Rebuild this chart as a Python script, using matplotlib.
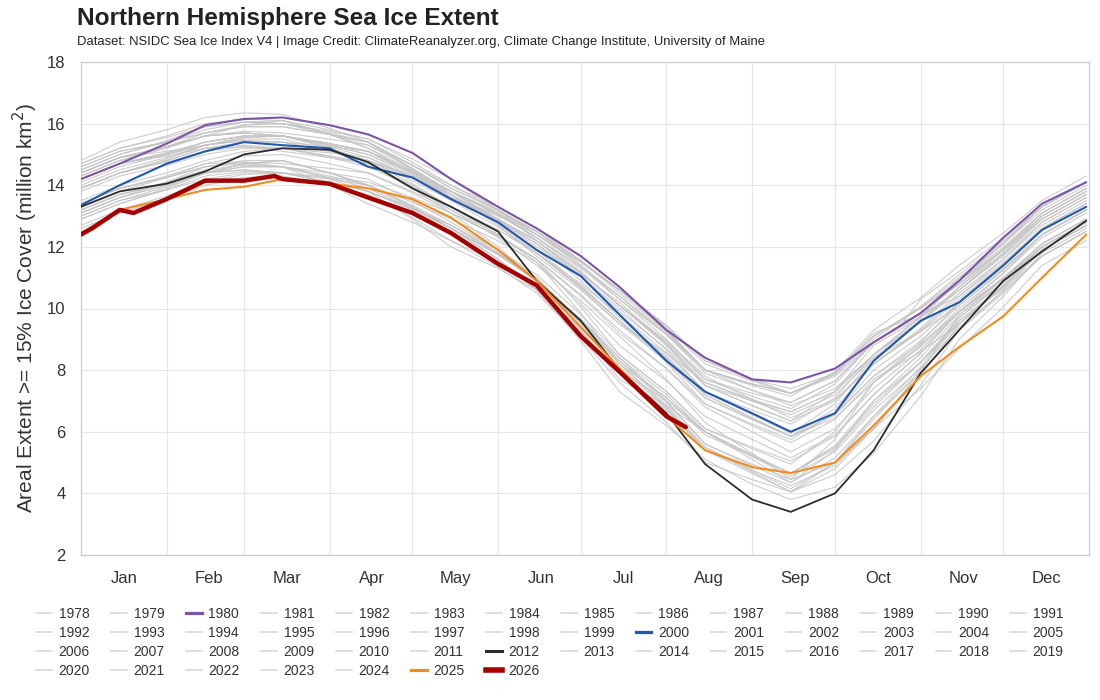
import matplotlib
matplotlib.use("Agg")
import matplotlib.pyplot as plt
from matplotlib.lines import Line2D

plt.rcParams["font.family"] = ["Liberation Sans", "DejaVu Sans"]

# day-of-year knots (Jan 1 = 0): 1st and 15th of each month, plus Dec 31
KNOT_DAYS = [0, 14, 31, 45, 59, 73, 90, 104, 120, 134, 151, 165, 181, 195,
             212, 226, 243, 257, 273, 287, 304, 318, 334, 348, 364]

MONTHS = ["Jan", "Feb", "Mar", "Apr", "May", "Jun",
          "Jul", "Aug", "Sep", "Oct", "Nov", "Dec"]
MONTH_START = [0, 31, 59, 90, 120, 151, 181, 212, 243, 273, 304, 334]

# 1978 record starts late October
DAYS_1978 = [298, 304, 318, 334, 348, 364]
Y1978 = [9.6, 10.3, 11.2, 12.3, 13.3, 14.1]

Y1979 = [14.8, 15.4, 15.8, 16.2, 16.35, 16.3, 15.85, 15.4, 14.65, 13.9, 13.2, 12.5, 11.4, 10.3, 9.15, 8.0, 7.35, 6.85, 7.4, 8.5, 9.7, 10.9, 12.1, 13.3, 14.1]
Y1980 = [14.2, 14.7, 15.35, 15.95, 16.15, 16.2, 15.95, 15.65, 15.05, 14.2, 13.3, 12.6, 11.7, 10.7, 9.3, 8.4, 7.7, 7.6, 8.05, 8.9, 9.85, 10.9, 12.3, 13.4, 14.1]
Y1981 = [14.4, 14.9, 15.25, 15.6, 15.7, 15.6, 15.35, 15.1, 14.45, 13.8, 13.05, 12.3, 11.35, 10.4, 9.15, 7.9, 7.35, 6.95, 7.65, 8.9, 9.85, 10.8, 11.9, 13.0, 13.8]
Y1982 = [14.7, 15.2, 15.55, 15.9, 16.05, 16.0, 15.75, 15.5, 14.75, 14.0, 13.3, 12.6, 11.55, 10.5, 9.25, 8.0, 7.5, 7.15, 7.95, 9.3, 10.35, 11.4, 12.45, 13.5, 14.3]
Y1983 = [14.7, 15.2, 15.6, 16.0, 16.15, 16.1, 15.65, 15.2, 14.4, 13.6, 13.05, 12.5, 11.55, 10.6, 9.45, 8.3, 7.7, 7.25, 7.85, 9.0, 10.05, 11.1, 12.2, 13.3, 14.1]
Y1984 = [14.1, 14.6, 15.0, 15.4, 15.6, 15.6, 15.35, 15.1, 14.35, 13.6, 12.9, 12.2, 11.15, 10.1, 8.85, 7.6, 7.05, 6.65, 7.3, 8.5, 9.55, 10.6, 11.8, 13.0, 13.8]
Y1985 = [14.4, 14.9, 15.25, 15.6, 15.95, 16.1, 15.8, 15.5, 14.85, 14.2, 13.2, 12.2, 11.05, 9.9, 8.7, 7.5, 7.0, 6.65, 7.3, 8.5, 9.6, 10.7, 11.9, 13.1, 13.9]
Y1986 = [14.5, 15.0, 15.4, 15.8, 16.05, 16.1, 15.65, 15.2, 14.5, 13.8, 13.15, 12.5, 11.55, 10.6, 9.4, 8.2, 7.65, 7.25, 7.9, 9.1, 10.0, 10.9, 12.0, 13.1, 13.9]
Y1987 = [14.6, 15.1, 15.4, 15.7, 15.9, 15.9, 15.65, 15.4, 14.65, 13.9, 13.2, 12.5, 11.55, 10.6, 9.3, 8.0, 7.55, 7.25, 7.8, 8.9, 9.85, 10.8, 11.95, 13.1, 13.9]
Y1988 = [14.5, 15.0, 15.45, 15.9, 16.05, 16.0, 15.65, 15.3, 14.65, 14.0, 13.2, 12.4, 11.4, 10.4, 9.2, 8.0, 7.55, 7.25, 7.9, 9.1, 10.05, 11.0, 12.15, 13.3, 14.1]
Y1989 = [14.4, 14.9, 15.1, 15.3, 15.55, 15.6, 15.3, 15.0, 14.3, 13.6, 12.9, 12.2, 11.15, 10.1, 8.9, 7.7, 7.15, 6.75, 7.55, 8.9, 9.85, 10.8, 11.9, 13.0, 13.8]
Y1990 = [14.3, 14.8, 15.25, 15.7, 15.95, 16.0, 15.7, 15.4, 14.55, 13.7, 12.75, 11.8, 10.8, 9.8, 8.55, 7.3, 6.55, 5.95, 6.9, 8.4, 9.55, 10.7, 11.8, 12.9, 13.7]
Y1991 = [14.2, 14.7, 15.05, 15.4, 15.6, 15.6, 15.35, 15.1, 14.45, 13.8, 13.05, 12.3, 11.2, 10.1, 8.8, 7.5, 6.85, 6.35, 7.3, 8.8, 9.7, 10.6, 11.75, 12.9, 13.7]
Y1992 = [14.3, 14.8, 15.2, 15.6, 15.7, 15.6, 15.35, 15.1, 14.45, 13.8, 13.1, 12.4, 11.5, 10.6, 9.3, 8.0, 7.55, 7.25, 7.9, 9.1, 10.0, 10.9, 11.9, 12.9, 13.7]
Y1993 = [14.6, 15.1, 15.4, 15.7, 15.9, 15.9, 15.65, 15.4, 14.5, 13.6, 12.85, 12.1, 11.05, 10.0, 8.65, 7.3, 6.7, 6.25, 7.1, 8.5, 9.75, 11.0, 12.1, 13.2, 14.0]
Y1994 = [14.4, 14.9, 15.25, 15.6, 15.75, 15.7, 15.5, 15.3, 14.55, 13.8, 13.05, 12.3, 11.3, 10.3, 9.0, 7.7, 7.25, 6.95, 7.65, 8.9, 9.75, 10.6, 11.7, 12.8, 13.6]
Y1995 = [14.2, 14.7, 15.0, 15.3, 15.45, 15.4, 15.1, 14.8, 14.05, 13.3, 12.55, 11.8, 10.7, 9.6, 8.35, 7.1, 6.4, 5.85, 6.45, 7.6, 8.9, 10.2, 11.4, 12.6, 13.4]
Y1996 = [13.9, 14.4, 14.75, 15.1, 15.25, 15.2, 15.05, 14.9, 14.25, 13.6, 13.0, 12.4, 11.5, 10.6, 9.45, 8.3, 7.7, 7.4, 7.9, 9.2, 9.8, 10.4, 11.6, 12.8, 13.6]
Y1997 = [14.2, 14.7, 15.05, 15.4, 15.6, 15.6, 15.25, 14.9, 14.25, 13.6, 12.9, 12.2, 11.15, 10.1, 8.95, 7.8, 7.05, 6.45, 7.05, 8.2, 9.35, 10.5, 11.6, 12.7, 13.5]
Y1998 = [14.4, 14.9, 15.25, 15.6, 15.7, 15.6, 15.3, 15.0, 14.4, 13.8, 12.9, 12.0, 11.1, 10.2, 8.85, 7.5, 6.85, 6.35, 7.0, 8.2, 9.25, 10.3, 11.45, 12.6, 13.4]
Y1999 = [14.2, 14.7, 14.95, 15.2, 15.4, 15.4, 15.25, 15.1, 14.4, 13.7, 12.9, 12.1, 10.9, 9.7, 8.45, 7.2, 6.45, 5.85, 6.75, 8.2, 9.3, 10.4, 11.5, 12.6, 13.4]
Y2000 = [13.35, 14.0, 14.7, 15.1, 15.4, 15.3, 15.2, 14.6, 14.25, 13.55, 12.8, 11.9, 11.05, 9.8, 8.3, 7.3, 6.6, 6.0, 6.6, 8.3, 9.6, 10.2, 11.4, 12.55, 13.3]
Y2001 = [14.0, 14.5, 14.9, 15.3, 15.55, 15.6, 15.2, 14.8, 14.15, 13.5, 12.65, 11.8, 10.65, 9.5, 8.55, 7.6, 7.0, 6.55, 7.2, 8.4, 9.25, 10.1, 11.25, 12.4, 13.2]
Y2002 = [13.9, 14.4, 14.85, 15.3, 15.45, 15.4, 15.1, 14.8, 14.3, 13.8, 12.85, 11.9, 10.75, 9.6, 8.25, 6.9, 6.25, 5.75, 6.6, 8.0, 9.1, 10.2, 11.3, 12.4, 13.2]
Y2003 = [14.2, 14.7, 15.0, 15.3, 15.5, 15.5, 15.15, 14.8, 14.25, 13.7, 12.7, 11.7, 10.6, 9.5, 8.3, 7.1, 6.4, 5.85, 6.55, 7.8, 8.85, 9.9, 11.15, 12.4, 13.2]
Y2004 = [13.9, 14.4, 14.8, 15.2, 15.25, 15.1, 14.9, 14.7, 14.0, 13.3, 12.55, 11.8, 10.7, 9.6, 8.4, 7.2, 6.45, 5.85, 6.55, 7.8, 8.95, 10.1, 11.25, 12.4, 13.2]
Y2005 = [13.4, 13.9, 14.25, 14.6, 14.75, 14.7, 14.55, 14.4, 13.8, 13.2, 12.4, 11.6, 10.45, 9.3, 8.05, 6.8, 6.0, 5.35, 6.1, 7.4, 8.65, 9.9, 11.0, 12.1, 12.9]
Y2006 = [13.2, 13.7, 14.05, 14.4, 14.5, 14.4, 14.25, 14.1, 13.6, 13.1, 12.35, 11.6, 10.4, 9.2, 8.05, 6.9, 6.2, 5.65, 6.4, 7.7, 8.6, 9.5, 10.75, 12.0, 12.8]
Y2007 = [13.4, 13.9, 14.3, 14.7, 14.75, 14.6, 14.3, 14.0, 13.45, 12.9, 12.2, 11.5, 9.85, 8.2, 6.8, 5.4, 4.65, 4.05, 4.8, 6.1, 7.8, 9.5, 10.7, 11.9, 12.7]
Y2008 = [13.9, 14.4, 14.8, 15.2, 15.3, 15.2, 14.95, 14.7, 13.95, 13.2, 12.3, 11.4, 10.25, 9.1, 7.7, 6.3, 5.3, 4.45, 5.75, 7.6, 8.8, 10.0, 11.15, 12.3, 13.1]
Y2009 = [13.8, 14.3, 14.65, 15.0, 15.2, 15.2, 14.9, 14.6, 13.95, 13.3, 12.4, 11.5, 10.15, 8.8, 7.65, 6.5, 5.75, 5.15, 5.9, 7.2, 8.55, 9.9, 10.95, 12.0, 12.8]
Y2010 = [13.5, 14.0, 14.4, 14.8, 15.1, 15.2, 14.95, 14.7, 13.9, 13.1, 12.0, 10.9, 9.65, 8.4, 7.2, 6.0, 5.25, 4.65, 5.5, 6.9, 8.25, 9.6, 10.75, 11.9, 12.7]
Y2011 = [13.2, 13.7, 14.1, 14.5, 14.65, 14.6, 14.4, 14.2, 13.5, 12.8, 11.9, 11.0, 9.5, 8.0, 7.0, 6.0, 5.1, 4.35, 5.15, 6.5, 8.1, 9.7, 10.85, 12.0, 12.8]
Y2012 = [13.3, 13.8, 14.05, 14.45, 15.0, 15.2, 15.15, 14.75, 13.9, 13.3, 12.5, 10.9, 9.6, 8.0, 6.6, 4.95, 3.8, 3.4, 4.0, 5.4, 7.9, 9.3, 10.9, 11.85, 12.85]
Y2013 = [13.3, 13.8, 14.25, 14.7, 14.95, 15.0, 14.7, 14.4, 13.75, 13.1, 12.35, 11.6, 10.05, 8.5, 7.3, 6.1, 5.45, 4.95, 6.0, 7.6, 8.75, 9.9, 10.95, 12.0, 12.8]
Y2014 = [13.2, 13.7, 14.05, 14.4, 14.7, 14.8, 14.4, 14.0, 13.35, 12.7, 11.9, 11.1, 9.8, 8.5, 7.3, 6.1, 5.5, 5.05, 5.85, 7.2, 8.55, 9.9, 11.0, 12.1, 12.9]
Y2015 = [13.1, 13.6, 14.0, 14.4, 14.5, 14.4, 14.2, 14.0, 13.3, 12.6, 11.75, 10.9, 9.65, 8.4, 7.0, 5.6, 4.9, 4.35, 5.4, 7.0, 8.25, 9.5, 10.7, 11.9, 12.7]
Y2016 = [13.0, 13.5, 13.85, 14.2, 14.4, 14.4, 14.1, 13.8, 12.9, 12.0, 11.3, 10.6, 9.35, 8.1, 6.75, 5.4, 4.75, 4.25, 4.9, 6.1, 7.4, 8.7, 10.05, 11.4, 12.2]
Y2017 = [12.7, 13.2, 13.65, 14.1, 14.35, 14.4, 14.1, 13.8, 13.25, 12.7, 11.8, 10.9, 9.55, 8.2, 7.1, 6.0, 5.2, 4.55, 5.35, 6.7, 8.05, 9.4, 10.55, 11.7, 12.5]
Y2018 = [12.6, 13.1, 13.55, 14.0, 14.25, 14.3, 14.0, 13.7, 12.95, 12.2, 11.5, 10.8, 9.55, 8.3, 6.95, 5.6, 4.95, 4.45, 5.0, 6.1, 7.95, 9.8, 10.85, 11.9, 12.7]
Y2019 = [13.1, 13.6, 14.0, 14.4, 14.6, 14.6, 14.0, 13.4, 12.8, 12.2, 11.35, 10.5, 9.05, 7.6, 6.3, 5.0, 4.45, 4.05, 4.6, 5.7, 7.5, 9.3, 10.6, 11.9, 12.7]
Y2020 = [13.1, 13.6, 14.1, 14.6, 14.8, 14.8, 14.4, 14.0, 13.3, 12.6, 11.6, 10.6, 8.95, 7.3, 6.2, 5.1, 4.3, 3.8, 4.2, 5.3, 7.15, 9.0, 10.4, 11.8, 12.6]
Y2021 = [12.9, 13.4, 13.9, 14.4, 14.6, 14.6, 14.25, 13.9, 13.25, 12.6, 11.75, 10.9, 9.3, 7.7, 6.85, 6.0, 5.25, 4.65, 5.55, 7.0, 8.4, 9.8, 10.95, 12.1, 12.9]
Y2022 = [13.4, 13.9, 14.25, 14.6, 14.7, 14.6, 14.2, 13.8, 13.25, 12.7, 11.8, 10.9, 9.6, 8.3, 7.1, 5.9, 5.2, 4.65, 5.45, 6.8, 8.25, 9.7, 10.85, 12.0, 12.8]
Y2023 = [12.9, 13.4, 13.85, 14.3, 14.45, 14.4, 14.1, 13.8, 13.2, 12.6, 11.8, 11.0, 9.6, 8.2, 6.85, 5.5, 4.75, 4.15, 5.0, 6.4, 8.0, 9.6, 10.65, 11.7, 12.5]
Y2024 = [13.0, 13.5, 13.95, 14.4, 14.7, 14.8, 14.4, 14.0, 13.3, 12.6, 11.6, 10.6, 9.25, 7.9, 6.7, 5.5, 4.7, 4.05, 5.0, 6.5, 7.9, 9.3, 10.5, 11.7, 12.5]
Y2025 = [12.45, 13.2, 13.55, 13.85, 13.95, 14.2, 14.05, 13.9, 13.55, 12.95, 11.9, 10.9, 9.4, 8.05, 6.5, 5.4, 4.85, 4.66, 5.0, 6.2, 7.8, 8.75, 9.75, 11.0, 12.4]

# 2026 is the current, partial year
DAYS_2026 = [0, 4, 14, 19, 31, 45, 59, 70, 73, 90, 104, 120, 134, 151, 165, 181, 195, 212, 219]
Y2026 = [12.4, 12.6, 13.2, 13.1, 13.55, 14.15, 14.15, 14.3, 14.2, 14.05, 13.6, 13.1, 12.45, 11.45, 10.75, 9.1, 7.95, 6.5, 6.15]

YEARS = list(range(1978, 2027))
SERIES = {
    1978: (DAYS_1978, Y1978), 1979: (KNOT_DAYS, Y1979), 1980: (KNOT_DAYS, Y1980),
    1981: (KNOT_DAYS, Y1981), 1982: (KNOT_DAYS, Y1982), 1983: (KNOT_DAYS, Y1983),
    1984: (KNOT_DAYS, Y1984), 1985: (KNOT_DAYS, Y1985), 1986: (KNOT_DAYS, Y1986),
    1987: (KNOT_DAYS, Y1987), 1988: (KNOT_DAYS, Y1988), 1989: (KNOT_DAYS, Y1989),
    1990: (KNOT_DAYS, Y1990), 1991: (KNOT_DAYS, Y1991), 1992: (KNOT_DAYS, Y1992),
    1993: (KNOT_DAYS, Y1993), 1994: (KNOT_DAYS, Y1994), 1995: (KNOT_DAYS, Y1995),
    1996: (KNOT_DAYS, Y1996), 1997: (KNOT_DAYS, Y1997), 1998: (KNOT_DAYS, Y1998),
    1999: (KNOT_DAYS, Y1999), 2000: (KNOT_DAYS, Y2000), 2001: (KNOT_DAYS, Y2001),
    2002: (KNOT_DAYS, Y2002), 2003: (KNOT_DAYS, Y2003), 2004: (KNOT_DAYS, Y2004),
    2005: (KNOT_DAYS, Y2005), 2006: (KNOT_DAYS, Y2006), 2007: (KNOT_DAYS, Y2007),
    2008: (KNOT_DAYS, Y2008), 2009: (KNOT_DAYS, Y2009), 2010: (KNOT_DAYS, Y2010),
    2011: (KNOT_DAYS, Y2011), 2012: (KNOT_DAYS, Y2012), 2013: (KNOT_DAYS, Y2013),
    2014: (KNOT_DAYS, Y2014), 2015: (KNOT_DAYS, Y2015), 2016: (KNOT_DAYS, Y2016),
    2017: (KNOT_DAYS, Y2017), 2018: (KNOT_DAYS, Y2018), 2019: (KNOT_DAYS, Y2019),
    2020: (KNOT_DAYS, Y2020), 2021: (KNOT_DAYS, Y2021), 2022: (KNOT_DAYS, Y2022),
    2023: (KNOT_DAYS, Y2023), 2024: (KNOT_DAYS, Y2024), 2025: (KNOT_DAYS, Y2025),
    2026: (DAYS_2026, Y2026),
}

HIGHLIGHT = {
    1980: ("#7d55a6", 1.5),
    2000: ("#2356ad", 1.5),
    2012: ("#2b2b2b", 1.3),
    2025: ("#f08c1e", 1.5),
    2026: ("#a50000", 3.2),
}
GRAY = "#c4c4c4"


def main() -> None:
    fig = plt.figure(figsize=(11, 7), dpi=100)
    ax = fig.add_axes([81 / 1100, 1 - 555 / 700, 1008 / 1100, 493 / 700])

    for year in YEARS:
        if year in HIGHLIGHT:
            continue
        days, vals = SERIES[year]
        ax.plot(days, vals, color=GRAY, lw=0.8, alpha=0.85, zorder=2)
    for year, (color, lw) in HIGHLIGHT.items():
        days, vals = SERIES[year]
        ax.plot(days, vals, color=color, lw=lw, zorder=3, solid_capstyle="round")

    ax.set_xlim(0, 365)
    ax.set_ylim(2, 18)
    ax.set_yticks(range(2, 19, 2))
    ax.set_xticks(MONTH_START[1:])
    ax.set_xticklabels([])
    ax.tick_params(axis="both", length=0)
    ax.tick_params(axis="y", labelsize=12, labelcolor="#333333", pad=11)
    for i, name in enumerate(MONTHS):
        ax.text(MONTH_START[i] + 15.5, -0.033, name, transform=ax.get_xaxis_transform(),
                ha="center", va="top", fontsize=12, color="#333333")
    ax.grid(True, color="#e6e6e6", lw=0.8, zorder=0)
    ax.set_axisbelow(True)
    for sp in ax.spines.values():
        sp.set_color("#cccccc")
        sp.set_linewidth(0.9)

    fig.text(25 / 1100, 1 - 308 / 700, "Areal Extent >= 15% Ice Cover (million km$^2$)",
             rotation=90, ha="center", va="center", fontsize=15, color="#333333")
    fig.text(77 / 1100, 1 - 19 / 700, "Northern Hemisphere Sea Ice Extent",
             fontsize=17.6, fontweight="bold", color="#222222", ha="left", va="center")
    fig.text(77 / 1100, 1 - 42 / 700,
             "Dataset: NSIDC Sea Ice Index V4 | Image Credit: ClimateReanalyzer.org, "
             "Climate Change Institute, University of Maine",
             fontsize=9.4, color="#222222", ha="left", va="center")

    # legend handles laid out row by row, 14 per row
    items = []
    for year in YEARS:
        if year in HIGHLIGHT:
            color, lw = HIGHLIGHT[year]
            h = Line2D([], [], color=color, lw=max(2.2, lw + 0.8))
        else:
            h = Line2D([], [], color="#d9d9d9", lw=1.2)
        items.append((h, str(year)))
    ncol = 14
    ordered = [items[r * ncol + c] for c in range(ncol) for r in range(4) if r * ncol + c < len(items)]
    leg = fig.legend([h for h, _ in ordered], [t for _, t in ordered], ncol=ncol,
                     loc="upper left", bbox_to_anchor=(0.028, 0.141), frameon=False,
                     fontsize=10, handlelength=1.1, handletextpad=0.5,
                     columnspacing=1.55, labelspacing=0.36, borderaxespad=0)
    for t in leg.get_texts():
        t.set_color("#333333")

    fig.savefig("out.png", dpi=100)
    plt.close(fig)


if __name__ == "__main__":
    main()
